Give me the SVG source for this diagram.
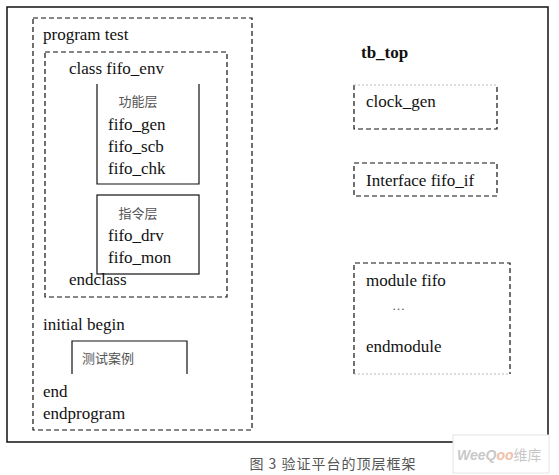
<svg xmlns="http://www.w3.org/2000/svg" width="559" height="475" viewBox="0 0 559 475">
<style>
.t{font-size:17px;fill:#111}
.c{font-family:"Noto Sans CJK SC",sans-serif;font-size:13px;fill:#555}
.d{fill:none;stroke:#111;stroke-width:1.2;stroke-dasharray:5,3}
.s{fill:none;stroke:#111;stroke-width:1.2}
</style>
<rect width="559" height="475" fill="#fff"/>
<rect x="7" y="7" width="541" height="435" fill="none" stroke="#111" stroke-width="1.5"/>
<g font-family="Liberation Serif, Times New Roman, serif">
<g id="program_test">
<rect class="d" x="33" y="18" width="219" height="412"/>
<text class="t" x="43" y="40">program test</text>
<text class="t" x="43" y="330">initial begin</text>
<text class="t" x="43" y="397">end</text>
<text class="t" x="43" y="419">endprogram</text>
</g>
<g id="class_fifo_env">
<rect class="d" x="45" y="52" width="182" height="245"/>
<text class="t" x="69" y="74">class fifo_env</text>
<text class="t" x="69" y="285">endclass</text>
</g>
<g id="func_layer">
<path class="s" d="M97,84 V184 H199 V84"/>
<text class="c" x="138" y="106" text-anchor="middle">功能层</text>
<text class="t" x="108" y="130">fifo_gen</text>
<text class="t" x="108" y="152">fifo_scb</text>
<text class="t" x="108" y="174">fifo_chk</text>
</g>
<g id="cmd_layer">
<rect class="s" x="97" y="195" width="102" height="79"/>
<text class="c" x="138" y="218" text-anchor="middle">指令层</text>
<text class="t" x="108" y="241">fifo_drv</text>
<text class="t" x="108" y="263">fifo_mon</text>
</g>
<g id="test_case">
<path class="s" d="M72,374 V341 H187 V374"/>
<text class="c" x="82" y="363">测试案例</text>
</g>
<g id="tb_top">
<text class="t" x="361" y="58" font-weight="bold" font-size="18">tb_top</text>
</g>
<g id="clock_gen">
<path class="d" d="M354,85 V129 H497 V85"/>
<path d="M354,85 H497" fill="none" stroke="#bbb" stroke-width="1" stroke-dasharray="2,2"/>
<text class="t" x="366" y="107">clock_gen</text>
</g>
<g id="fifo_if">
<rect class="d" x="354" y="163" width="143" height="33"/>
<text class="t" x="366" y="186">Interface fifo_if</text>
</g>
<g id="module_fifo">
<path class="d" d="M354,374 V263 H510 V374"/>
<path d="M354,374 H510" fill="none" stroke="#bbb" stroke-width="1" stroke-dasharray="2,2"/>
<text class="t" x="366" y="286">module fifo</text>
<text x="392" y="310" font-size="13" fill="#555">…</text>
<text class="t" x="366" y="352">endmodule</text>
</g>
</g>
<g id="caption">
<text class="c" x="333" y="469" text-anchor="middle" style="font-size:14px;letter-spacing:1px">图 3  验证平台的顶层框架</text>
</g>
<g id="watermark">
<rect x="453" y="435" width="96" height="38" fill="#fff" stroke="#e4e4e4"/>
<text x="457" y="460" style="font-family:'Liberation Sans',sans-serif;font-size:14px;font-style:italic;font-weight:bold;fill:#c8c8c8">WeeQ<tspan fill="#f0c0a8">oo</tspan><tspan style="font-family:'Noto Sans CJK SC',sans-serif;font-style:normal;font-weight:normal">维库</tspan></text>
</g>
</svg>
